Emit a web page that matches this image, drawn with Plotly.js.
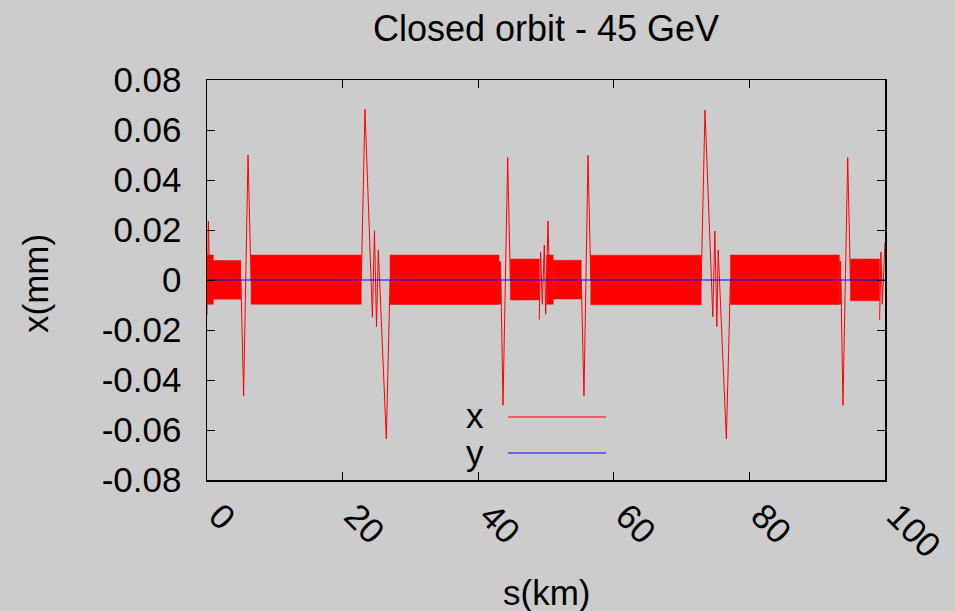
<!DOCTYPE html>
<html>
<head>
<meta charset="utf-8">
<script src="https://cdn.plot.ly/plotly-3.0.1.min.js"></script>
<style>
  html, body { margin: 0; padding: 0; background: #cccccc; }
  #chart { width: 955px; height: 611px; }
</style>
</head>
<body>
<div id="chart"></div>
<script>
// ---- Data (s in km, x/y in mm) ----
// Dense betatron-like band of the x orbit: segments with their envelope
const bandStart  = [0.0,    0.93,   6.5,    27.0,   43.07,  44.74,  50.1,   51.07,  56.6,   77.2,   93.26,  94.9];
const bandEnd    = [0.93,   5.0,    22.76,  43.07,  43.35,  49.0,   51.07,  55.2,   72.9,   93.26,  93.5,   99.2];
const bandTop    = [0.0100, 0.0078, 0.0100, 0.0100, 0.0073, 0.0084, 0.0100, 0.0079, 0.0099, 0.0100, 0.0075, 0.0084];
const bandBottom = [-0.0097,-0.0077,-0.0097,-0.0098,-0.0096,-0.0080,-0.0097,-0.0076,-0.0099,-0.0098,-0.0096,-0.0083];

// Isolated excursions of the x orbit (null separates groups)
const spikeS = [
  0.0, 0.2, 0.4, null,
  5.0, 5.4, 6.05, 6.5, null,
  22.76, 23.3, 24.4, 24.7, 25.0, 25.27, 26.45, 27.0, null,
  43.35, 43.66, 44.35, 44.74, null,
  49.0, 49.2, 49.46, 49.75, 49.95, 50.3, 50.5, null,
  55.2, 55.6, 56.2, 56.6, null,
  72.9, 73.45, 74.6, 74.9, 75.2, 75.4, 76.6, 77.2, null,
  93.5, 93.8, 94.5, 94.9, null,
  99.2, 99.4, 99.6, 99.9, 100.0
];
const spikeX = [
  -0.0140, 0.0236, 0.0, null,
  0.0, -0.0464, 0.0500, 0.0, null,
  0.0, 0.0683, -0.0149, 0.0197, -0.0187, 0.0120, -0.0636, 0.0, null,
  0.0, -0.0501, 0.0490, 0.0, null,
  -0.0159, 0.0112, -0.0097, 0.0140, -0.0137, 0.0236, 0.0, null,
  0.0, -0.0463, 0.0499, 0.0, null,
  0.0, 0.0680, -0.0147, 0.0196, -0.0187, 0.0120, -0.0636, 0.0, null,
  0.0, -0.0501, 0.0490, 0.0, null,
  -0.0159, 0.0112, -0.0097, 0.0143, 0.0150
];

// Vertical orbit (flat at zero)
const yOrbitS = [0, 100];
const yOrbitV = [0, 0];

// Axis ticks
const xTickVals = [0, 20, 40, 60, 80, 100];
const xTickText = ["0", "20", "40", "60", "80", "100"];
const yTickVals = [0.08, 0.06, 0.04, 0.02, 0, -0.02, -0.04, -0.06, -0.08];
const yTickText = ["0.08", "0.06", "0.04", "0.02", "0", "-0.02", "-0.04", "-0.06", "-0.08"];

// ---- Build traces ----
const FONT = "Liberation Sans, Arial, Helvetica, sans-serif";
const traces = [];
for (let i = 0; i < bandStart.length; i++) {
  traces.push({
    type: "scatter", mode: "lines",
    x: [bandStart[i], bandEnd[i], bandEnd[i], bandStart[i], bandStart[i]],
    y: [bandTop[i], bandTop[i], bandBottom[i], bandBottom[i], bandTop[i]],
    fill: "toself", fillcolor: "#ff0000",
    line: { color: "#ff0000", width: 0.5 },
    showlegend: false, hoverinfo: "skip"
  });
}
traces.push({
  type: "scatter", mode: "lines", name: "x",
  x: spikeS, y: spikeX,
  line: { color: "#ff0000", width: 1 },
  connectgaps: false, showlegend: false
});
traces.push({
  type: "scatter", mode: "lines", name: "y",
  x: yOrbitS, y: yOrbitV,
  line: { color: "#0000ff", width: 1 },
  showlegend: false
});

const layout = {
  width: 955, height: 611,
  paper_bgcolor: "#cccccc", plot_bgcolor: "#cccccc",
  margin: { l: 207, r: 70, t: 80, b: 131 },
  font: { family: FONT, size: 35, color: "#000000" },
  showlegend: false,
  title: {
    text: "Closed orbit - 45 GeV",
    font: { family: FONT, size: 36, color: "#000000" },
    x: 0.5, xref: "paper", y: 1 - 28 / 611, yref: "container", yanchor: "middle"
  },
  xaxis: {
    range: [0, 100], tickmode: "array", tickvals: xTickVals, ticktext: xTickText,
    tickangle: 45, ticks: "inside", ticklen: 8, tickcolor: "#000000", tickwidth: 1,
    showline: true, linecolor: "#000000", linewidth: 1.5, mirror: "ticks",
    showgrid: false, zeroline: false, ticklabelstandoff: 0, ticklabelshift: 12,
    tickfont: { family: FONT, size: 35, color: "#000000" }
  },
  yaxis: {
    range: [-0.08, 0.08], tickmode: "array", tickvals: yTickVals, ticktext: yTickText,
    ticks: "inside", ticklen: 8, tickcolor: "#000000", tickwidth: 1,
    showline: true, linecolor: "#000000", linewidth: 1.5, mirror: "ticks",
    showgrid: false, zeroline: false, ticklabelstandoff: 17,
    tickfont: { family: FONT, size: 35, color: "#000000" }
  },
  annotations: [
    { text: "s(km)", xref: "paper", yref: "paper", x: 0.5, y: (480 - 592) / 400,
      xanchor: "center", yanchor: "middle", showarrow: false,
      font: { family: FONT, size: 35, color: "#000000" } },
    { text: "x(mm)", xref: "paper", yref: "paper", x: (35 - 207) / 678, y: (480 - 283) / 400,
      xanchor: "center", yanchor: "middle", showarrow: false, textangle: -90,
      font: { family: FONT, size: 35, color: "#000000" } },
    { text: "x", xref: "paper", yref: "paper", x: (486 - 207) / 678, y: (480 - 415) / 400,
      xanchor: "right", yanchor: "middle", showarrow: false,
      font: { family: FONT, size: 35, color: "#000000" } },
    { text: "y", xref: "paper", yref: "paper", x: (486 - 207) / 678, y: (480 - 452) / 400,
      xanchor: "right", yanchor: "middle", showarrow: false,
      font: { family: FONT, size: 35, color: "#000000" } }
  ],
  shapes: [
    { type: "line", xref: "paper", yref: "paper",
      x0: (508 - 207) / 678, x1: (606 - 207) / 678, y0: (480 - 417) / 400, y1: (480 - 417) / 400,
      line: { color: "#ff0000", width: 1 } },
    { type: "line", xref: "paper", yref: "paper",
      x0: (508 - 207) / 678, x1: (606 - 207) / 678, y0: (480 - 453) / 400, y1: (480 - 453) / 400,
      line: { color: "#0000ff", width: 1 } }
  ]
};

Plotly.newPlot("chart", traces, layout, { displayModeBar: false, staticPlot: true });
</script>
</body>
</html>
